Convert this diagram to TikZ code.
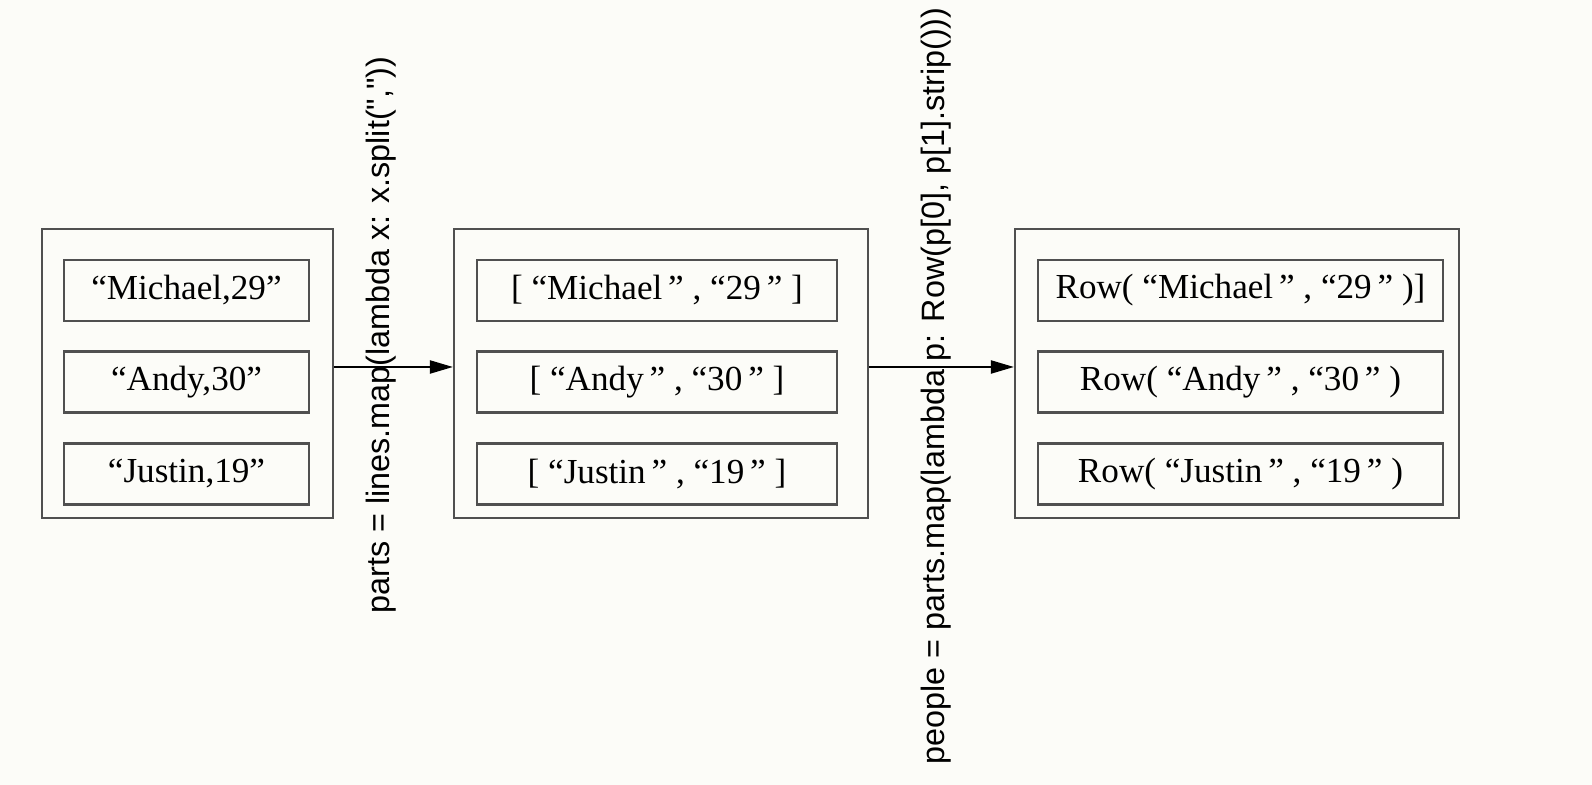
\documentclass[tikz,border=0pt]{standalone}
\usepackage{fontspec}
\setmainfont{Liberation Serif}
\newfontfamily\labelfont{Liberation Sans}
\usetikzlibrary{arrows.meta}
\definecolor{bgcream}{RGB}{252,252,248}
\definecolor{boxgray}{RGB}{80,80,80}

\begin{document}
\begin{tikzpicture}[line width=0.6pt,
        outer_style/.style={draw=boxgray,rectangle,minimum height=2.89cm,inner sep=0pt},
        record_style/.style={draw=boxgray,rectangle,minimum height=0.61cm,inner sep=0pt,font=\fontsize{10}{12}\selectfont},
        label_style/.style={rotate=90,inner sep=0pt,font=\labelfont\fontsize{9.2}{11}\selectfont},
        edge_style/.style={draw=black,line width=0.6pt,-{Triangle[length=2.3mm,width=1.3mm]}}]

        \fill [bgcream] (0,0) rectangle (15.92,7.85);
        \useasboundingbox (0,0) rectangle (15.92,7.85);

        \node [outer_style,minimum width=2.91cm](lines) at (1.875,4.115) {};
        \node [outer_style,minimum width=4.14cm](parts) at (6.61,4.115) {};
        \node [outer_style,minimum width=4.44cm](people) at (12.37,4.115) {};

        \node [record_style,minimum width=2.45cm](l1) at (1.865,4.945) {“Michael,29”};
        \node [record_style,minimum width=2.45cm](l2) at (1.865,4.03) {“Andy,30”};
        \node [record_style,minimum width=2.45cm](l3) at (1.865,3.11) {“Justin,19”};
        \node [record_style,minimum width=3.60cm](p1) at (6.57,4.945) {[ “Michael\,” , “29\,” ]};
        \node [record_style,minimum width=3.60cm](p2) at (6.57,4.03) {[ “Andy\,” , “30\,” ]};
        \node [record_style,minimum width=3.60cm](p3) at (6.57,3.11) {[ “Justin\,” , “19\,” ]};
        \node [record_style,minimum width=4.05cm](r1) at (12.405,4.945) {Row( “Michael\,” , “29\,” )]};
        \node [record_style,minimum width=4.05cm](r2) at (12.405,4.03) {Row( “Andy\,” , “30\,” )};
        \node [record_style,minimum width=4.05cm](r3) at (12.405,3.11) {Row( “Justin\,” , “19\,” )};

        \draw [edge_style] ([yshift=0.65mm]lines.east) -- ([yshift=0.65mm]parts.west);
        \draw [edge_style] ([yshift=0.65mm]parts.east) -- ([yshift=0.65mm]people.west);

        \node [label_style](split) at (3.81,4.50) {parts = lines.map(lambda x: x.split(","))};
        \node [label_style](rowmap) at (9.36,3.99) {people = parts.map(lambda p: Row(p[0], p[1].strip()))};
        \end{tikzpicture}
\end{document}
